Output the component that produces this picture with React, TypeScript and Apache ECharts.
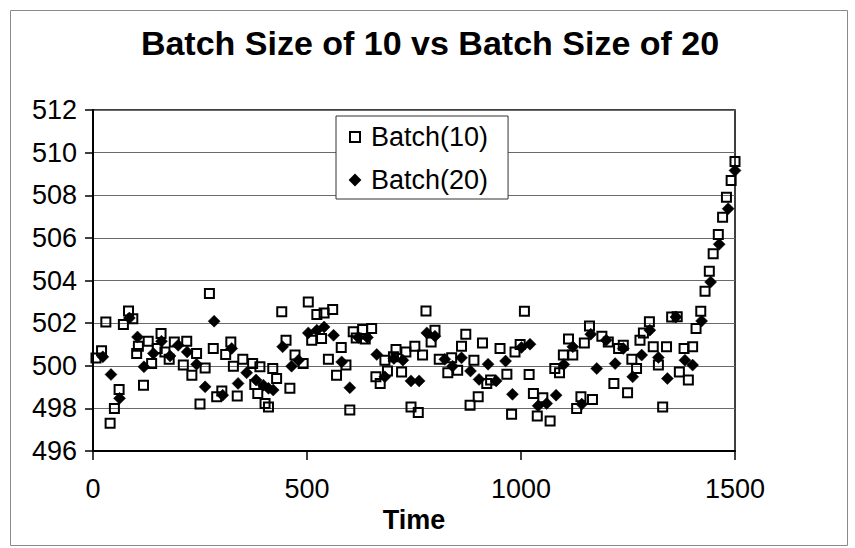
import React, { useEffect, useRef } from "react";
import * as echarts from "echarts";

const chartTitle = "Batch Size of 10 vs Batch Size of 20";
const xAxisName = "Time";
const seriesNames = ["Batch(10)", "Batch(20)"];

// [time, value]
const batch10: [number, number][] = [
  [7, 500.36], [20, 500.7], [30, 502.05], [40, 497.3], [50, 498.0], [61, 498.89], [71, 501.93], [83, 502.57],
  [93, 502.2], [102, 500.57], [106, 500.92], [118, 499.08], [129, 501.15], [137, 500.1], [150, 500.81],
  [159, 501.51], [168, 500.65], [178, 500.3], [190, 501.12], [211, 500.03], [219, 501.15], [231, 499.56],
  [242, 500.57], [250, 498.2], [262, 499.9], [272, 503.39], [281, 500.81], [289, 498.54], [301, 498.81],
  [310, 500.53], [322, 501.12], [328, 499.98], [337, 498.58], [350, 500.3], [373, 500.1], [378, 499.12],
  [385, 498.7], [390, 499.95], [402, 498.23], [410, 498.07], [420, 499.87], [429, 499.4], [441, 502.53],
  [451, 501.2], [460, 498.94], [472, 500.5], [491, 500.1], [503, 502.99], [511, 501.2], [523, 502.4],
  [534, 501.28], [540, 502.48], [550, 500.3], [560, 502.64], [569, 499.56], [580, 500.86], [591, 500.03],
  [600, 497.92], [608, 501.59], [615, 501.3], [630, 501.7], [636, 501.25], [651, 501.75], [661, 499.48],
  [671, 499.17], [682, 500.26], [688, 499.75], [702, 500.42], [708, 500.76], [721, 499.71], [731, 500.65],
  [743, 498.07], [752, 500.92], [760, 497.81], [770, 500.5], [778, 502.57], [790, 501.12], [799, 501.67],
  [809, 500.3], [829, 499.67], [838, 500.37], [852, 499.79], [861, 500.92], [871, 501.48], [881, 498.15],
  [890, 500.26], [900, 498.54], [910, 501.07], [920, 499.17], [929, 499.33], [951, 500.81], [967, 499.6],
  [978, 497.73], [986, 500.65], [998, 501.0], [1008, 502.56], [1019, 499.59], [1029, 498.7], [1038, 497.64],
  [1051, 498.5], [1068, 497.41], [1079, 499.87], [1090, 499.67], [1099, 500.5], [1111, 501.25], [1121, 500.5],
  [1130, 498.0], [1140, 498.54], [1148, 501.07], [1160, 501.87], [1167, 498.42], [1189, 501.39], [1204, 501.12],
  [1217, 499.17], [1228, 500.81], [1239, 500.96], [1249, 498.73], [1259, 500.3], [1270, 499.87], [1278, 501.2],
  [1286, 501.54], [1300, 502.06], [1309, 500.89], [1321, 500.03], [1331, 498.07], [1340, 500.89], [1352, 502.29],
  [1365, 502.3], [1370, 499.71], [1381, 500.81], [1391, 499.33], [1401, 500.89], [1409, 501.75], [1420, 502.56],
  [1430, 503.5], [1440, 504.43], [1449, 505.26], [1461, 506.16], [1471, 506.97], [1480, 507.91], [1491, 508.69],
  [1500, 509.58],
];

const batch20: [number, number][] = [
  [23, 500.42], [42, 499.59], [62, 498.47], [85, 502.24], [104, 501.35], [119, 499.95], [141, 500.58],
  [160, 501.15], [180, 500.46], [199, 500.96], [220, 500.65], [242, 500.07], [262, 499.01], [283, 502.09],
  [303, 498.62], [324, 500.81], [339, 499.17], [359, 499.67], [381, 499.33], [398, 499.09], [410, 498.94],
  [421, 498.86], [443, 500.89], [464, 499.98], [480, 500.26], [503, 501.54], [523, 501.67], [540, 501.82],
  [562, 501.43], [581, 500.18], [600, 498.97], [620, 501.33], [641, 501.33], [663, 500.53], [682, 499.48],
  [703, 500.34], [724, 500.26], [743, 499.29], [762, 499.29], [780, 501.54], [799, 501.39], [822, 500.3],
  [840, 499.98], [861, 500.37], [882, 499.75], [902, 499.36], [923, 500.07], [942, 499.29], [964, 500.22],
  [980, 498.66], [1001, 500.86], [1021, 501.01], [1040, 498.12], [1060, 498.23], [1082, 498.62], [1100, 500.06],
  [1121, 500.89], [1142, 498.2], [1163, 501.48], [1177, 499.87], [1199, 501.2], [1220, 500.1], [1239, 500.81],
  [1261, 499.48], [1282, 500.5], [1301, 501.67], [1321, 500.39], [1342, 499.4], [1362, 502.29], [1383, 500.26],
  [1401, 500.03], [1422, 502.1], [1443, 503.93], [1463, 505.7], [1484, 507.37], [1500, 509.16],
];

const xMin = 0;
const xMax = 1500;
const xStep = 500;
const yMin = 496;
const yMax = 512;
const yStep = 2;

const FONT = "'Liberation Sans', Arial, sans-serif";

export default function App() {
  const ref = useRef<HTMLDivElement>(null);

  useEffect(() => {
    if (!ref.current) return;
    const chart = echarts.init(ref.current, undefined, { renderer: "svg" });
    chart.setOption({
      animation: false,
      backgroundColor: "#fff",
      textStyle: { fontFamily: FONT, color: "#000" },
      title: {
        text: chartTitle,
        left: 425,
        top: 21,
        textAlign: "center",
        textStyle: { fontFamily: FONT, fontSize: 34, fontWeight: "bold", color: "#000" },
      },
      graphic: [
        {
          type: "rect",
          shape: { x: 10.5, y: 10.5, width: 837, height: 535 },
          style: { fill: "none", stroke: "#8a8a8a", lineWidth: 1 },
          silent: true,
        },
      ],
      legend: {
        orient: "vertical",
        left: 336,
        top: 116,
        padding: [6, 20, 4, 13],
        itemWidth: 10,
        itemHeight: 10,
        itemGap: 13,
        backgroundColor: "#fff",
        borderColor: "#333",
        borderWidth: 1,
        textStyle: {
          fontFamily: FONT,
          fontSize: 27,
          color: "#000",
          lineHeight: 30,
          padding: [0, 0, 0, 6],
        },
        data: seriesNames,
      },
      grid: {
        left: 93,
        right: 120,
        top: 110,
        bottom: 97,
        show: true,
        borderColor: "#000",
        borderWidth: 1.5,
        backgroundColor: "transparent",
      },
      xAxis: {
        type: "value",
        min: xMin,
        max: xMax,
        interval: xStep,
        name: xAxisName,
        nameLocation: "middle",
        nameGap: 55,
        nameTextStyle: { fontFamily: FONT, fontSize: 27, fontWeight: "bold", color: "#000" },
        axisLine: { show: true, onZero: false, lineStyle: { color: "#000", width: 2 } },
        axisTick: { show: true, inside: false, length: 9, lineStyle: { color: "#000", width: 1.5 } },
        axisLabel: {
          fontFamily: FONT,
          fontSize: 27,
          color: "#000",
          margin: 24,
          formatter: (v: number) => String(v),
        },
        splitLine: { show: false },
      },
      yAxis: {
        type: "value",
        min: yMin,
        max: yMax,
        interval: yStep,
        axisLine: { show: true, lineStyle: { color: "#000", width: 2 } },
        axisTick: { show: true, inside: false, length: 8, lineStyle: { color: "#000", width: 1.5 } },
        axisLabel: {
          fontFamily: FONT,
          fontSize: 27,
          color: "#000",
          margin: 16,
          formatter: (v: number) => String(v),
        },
        splitLine: { show: true, lineStyle: { color: "#6a6a6a", width: 1 } },
      },
      series: [
        {
          name: seriesNames[0],
          type: "scatter",
          symbol: "rect",
          symbolSize: 9,
          data: batch10,
          itemStyle: { color: "rgba(255,255,255,0)", borderColor: "#000", borderWidth: 2, opacity: 1 },
          emphasis: { disabled: true },
          z: 2,
        },
        {
          name: seriesNames[1],
          type: "scatter",
          symbol: "diamond",
          symbolSize: 12,
          data: batch20,
          itemStyle: { color: "#000", borderColor: "#000", borderWidth: 0.5, opacity: 1 },
          emphasis: { disabled: true },
          z: 3,
        },
      ],
    });
    return () => chart.dispose();
  }, []);

  return (
    <div
      ref={ref}
      style={{ position: "absolute", left: 0, top: 0, width: 855, height: 548, background: "#fff" }}
    />
  );
}
